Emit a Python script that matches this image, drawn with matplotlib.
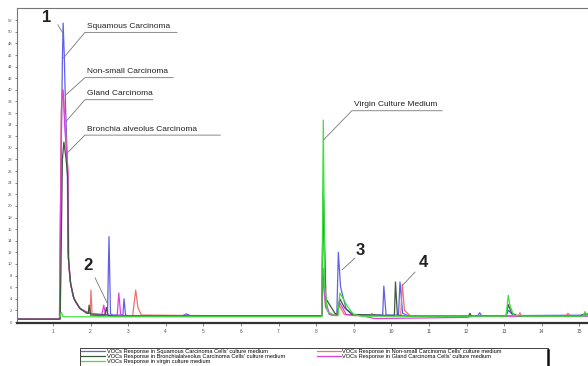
import matplotlib
matplotlib.use("Agg")
import matplotlib.pyplot as plt
from matplotlib.patches import Rectangle

plt.rcParams['font.family'] = ['Liberation Sans', 'DejaVu Sans']

# chromatogram traces (retention time, response)
squamous_x = [0.05, 1.18, 1.20, 1.25, 1.27, 1.30, 1.33, 1.38, 1.40, 1.45, 1.53, 1.62, 1.72, 1.85, 1.98, 2.20,
              2.45, 2.49, 2.53, 2.60, 2.86, 2.89, 2.93, 3.00, 4.45, 4.55, 4.65, 6.00, 8.15, 8.19, 8.24, 8.35,
              8.55, 8.59, 8.65, 8.80, 9.00, 9.77, 9.80, 9.86, 10.19, 10.23, 10.30, 10.45, 12.30, 12.35, 12.40,
              13.05, 13.12, 13.25, 15.55]
squamous_y = [0.5, 0.5, 20, 45, 51.5, 46, 38, 28, 12, 7.5, 4.5, 3.2, 2.4, 1.8, 1.5, 1.3,
              1.3, 14.7, 1.4, 1.2, 1.2, 4.0, 1.2, 1.1, 1.1, 1.4, 1.1, 1.1, 1.1, 22.8, 4.0, 1.3,
              1.2, 12.0, 6.0, 2.2, 1.3, 1.2, 6.2, 1.2, 1.2, 6.9, 1.5, 1.1, 1.1, 1.6, 1.1,
              1.1, 2.0, 1.1, 1.2]

nonsmall_x = [0.05, 1.18, 1.19, 1.22, 1.25, 1.29, 1.34, 1.39, 1.41, 1.46, 1.55, 1.70, 1.90, 1.99, 2.01, 2.04,
              2.20, 3.12, 3.20, 3.26, 3.35, 5.00, 8.15, 8.19, 8.25, 8.35, 8.55, 8.60, 8.75, 9.00, 9.45, 9.48,
              9.52, 10.25, 10.29, 10.35, 10.50, 12.00, 13.38, 13.42, 13.46, 14.65, 14.70, 14.76, 15.55]
nonsmall_y = [0.5, 0.5, 12, 36, 40, 38, 32, 27, 11, 7, 4.2, 2.4, 1.6, 1.5, 5.5, 1.3,
              1.1, 1.1, 5.5, 2.5, 1.2, 1.1, 1.1, 9.3, 3.0, 1.4, 1.2, 3.0, 1.3, 1.1, 1.1, 1.5,
              1.1, 1.1, 6.5, 2.0, 1.1, 1.1, 1.1, 1.6, 1.1, 1.1, 1.5, 1.1, 1.1]

gland_x = [0.05, 1.17, 1.19, 1.23, 1.27, 1.31, 1.36, 1.40, 1.42, 1.47, 1.56, 1.72, 1.98, 2.30, 2.35, 2.40,
           2.60, 2.71, 2.75, 2.80, 2.90, 4.00, 8.15, 8.19, 8.25, 8.40, 8.56, 8.61, 8.80, 9.20, 9.55, 9.70,
           12.00, 12.20, 13.00, 15.55]
gland_y = [0.5, 0.5, 10, 38, 40, 34, 29, 26, 10, 6.5, 4.0, 2.3, 1.5, 1.3, 2.9, 1.2,
           1.1, 1.2, 5.0, 1.3, 1.1, 1.1, 1.1, 8.0, 2.5, 1.2, 1.1, 3.5, 1.3, 1.1, 0.6, 0.6,
           0.8, 1.0, 1.0, 1.0]

bronchio_x = [0.05, 1.19, 1.21, 1.25, 1.29, 1.35, 1.39, 1.41, 1.47, 1.56, 1.72, 1.90, 1.94, 1.96, 2.00, 2.38,
              2.42, 2.46, 2.60, 5.50, 8.15, 8.19, 8.26, 8.50, 8.57, 8.63, 8.75, 8.95, 10.08, 10.11, 10.16,
              10.40, 12.05, 12.09, 12.13, 13.05, 13.11, 13.20, 13.40, 15.00, 15.15, 15.55]
bronchio_y = [0.5, 0.5, 8, 28, 31, 28, 25, 11, 6.5, 4.0, 2.3, 1.5, 1.5, 2.9, 1.2, 1.2,
              2.5, 1.2, 1.0, 1.0, 1.0, 22.8, 4.0, 1.5, 1.2, 4.0, 2.5, 1.3, 1.1, 6.9, 1.2,
              1.0, 1.0, 1.5, 1.0, 1.0, 3.0, 1.5, 1.0, 1.0, 1.4, 1.2]

virgin_x = [1.18, 1.22, 1.26, 1.32, 8.15, 8.19, 8.23, 8.30, 8.50, 8.58, 8.63, 8.72, 8.85, 9.00, 9.20,
            13.05, 13.11, 13.15, 13.25, 13.50, 15.10, 15.15, 15.20, 15.55]
virgin_y = [0.9, 1.7, 1.0, 0.9, 0.9, 34.8, 6.0, 1.8, 1.1, 1.1, 5.0, 4.0, 2.5, 1.3, 1.0,
            1.0, 4.6, 3.0, 1.2, 1.0, 1.0, 1.8, 1.1, 1.1]

legend_labels = [
    "VOCs Response in Squamous Carcinoma Cells' culture medium",
    "VOCs Response in Bronchialalveolus Carcinoma Cells' culture medium",
    "VOCs Response in virgin culture medium",
    "VOCs Response in Non-small Carcinoma Cells' culture medium",
    "VOCs Response in Gland Carcinoma Cells' culture medium",
]
x_ticks = list(range(1, 16))
y_ticks = list(range(0, 54, 2))

fig = plt.figure(figsize=(5.88, 3.66), dpi=100)
ax = fig.add_axes([17 / 588, 1 - 323 / 366, 583 / 588, 315 / 366])

l_sq, = ax.plot(squamous_x, squamous_y, color='#6060e8', lw=0.9)
l_ns, = ax.plot(nonsmall_x, nonsmall_y, color='#f07070', lw=0.9)
l_gl, = ax.plot(gland_x, gland_y, color='#e040e0', lw=0.9)
l_br, = ax.plot(bronchio_x, bronchio_y, color='#3c5a3c', lw=0.9)
l_vi, = ax.plot(virgin_x, virgin_y, color='#40e040', lw=0.9)

ax.set_xlim(0.043, 15.55)
ax.set_ylim(-0.17, 54.1)
ax.set_xticks(x_ticks)
ax.set_yticks(y_ticks)
ax.tick_params(axis='x', labelsize=3.5, length=2, width=0.5, colors='#555', pad=2)
ax.tick_params(axis='y', labelsize=3, length=1.5, width=0.5, colors='#555', pad=2)
for side in ['left', 'top']:
    ax.spines[side].set_color('#777')
    ax.spines[side].set_linewidth(0.8)
ax.spines['bottom'].set_color('#333')
ax.spines['bottom'].set_linewidth(1.6)
ax.spines['right'].set_visible(False)


def callout(text, tx, ty, px, py, width):
    # leader line from the peak to an underlined name
    ax.plot([px, tx, tx + width], [py, ty, ty], color='#777', lw=0.6)
    ax.text(tx + 0.06, ty + 0.4, text, fontsize=6, color='#222', va='bottom')


callout("Squamous Carcinoma", 1.85, 49.9, 1.28, 45.5, 2.45)
callout("Non-small Carcinoma", 1.85, 42.1, 1.32, 39.0, 2.35)
callout("Gland Carcinoma", 1.85, 38.3, 1.34, 34.5, 1.80)
callout("Bronchia alveolus Carcinoma", 1.85, 32.2, 1.36, 29.0, 3.60)
callout("Virgin Culture Medium", 8.95, 36.4, 8.20, 31.4, 2.40)

num_style = dict(fontsize=12, fontweight='bold', color='#222', ha='center', va='center')
ax.text(0.84, 52.4, "1", **num_style)
ax.plot([1.13, 1.26], [51.2, 49.8], color='#777', lw=0.6)
ax.text(1.93, 9.8, "2", **num_style)
ax.plot([2.12, 2.44], [7.6, 3.3], color='#777', lw=0.6)
ax.text(9.17, 12.4, "3", **num_style)
ax.plot([9.03, 8.69], [11.0, 9.0], color='#777', lw=0.6)
ax.text(10.84, 10.2, "4", **num_style)
ax.plot([10.63, 10.31], [8.6, 6.4], color='#777', lw=0.6)

fig.legend([l_sq, l_br, l_vi, l_ns, l_gl], legend_labels, ncol=2,
           loc='upper left', bbox_to_anchor=(80 / 588, 1 - 348 / 366),
           borderaxespad=0, fontsize=4.1, labelspacing=0.0, handlelength=4.2,
           handletextpad=0.3, columnspacing=5.5, borderpad=0.25, frameon=False)
fig.add_artist(Rectangle((80 / 588, 0), 468 / 588, 18 / 366, transform=fig.transFigure,
                         fill=False, ec='#222', lw=0.6))
fig.add_artist(plt.Line2D([548 / 588, 548 / 588], [0, 16 / 366], transform=fig.transFigure,
                          color='#111', lw=1.8))

fig.savefig("out.png", dpi=100)
